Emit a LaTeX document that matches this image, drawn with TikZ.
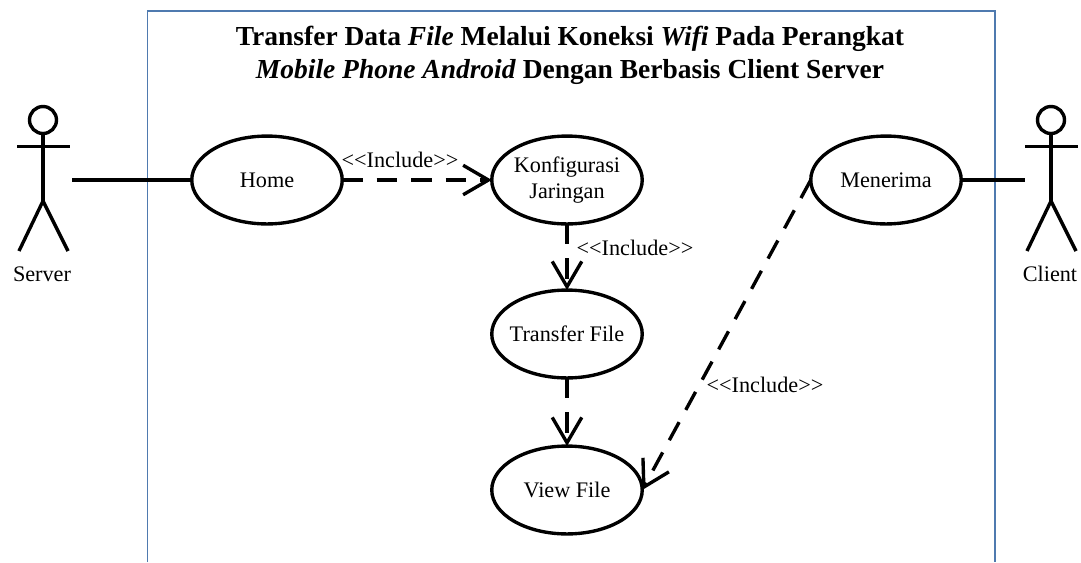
\documentclass[tikz,border=0pt]{standalone}
\usepackage{fontspec}
\setmainfont{Liberation Serif}[Ligatures=NoCommon]
\usetikzlibrary{shapes.geometric}
\usetikzlibrary{arrows.meta}
\definecolor{framecolor}{RGB}{79,122,175}
\tikzstyle{usecase}=[draw, ellipse, line width=2.4pt, minimum width=107pt, minimum height=62.5pt, inner sep=0pt, outer sep=0pt, font=\fontsize{15.8}{18.5}\selectfont, align=center]
\tikzstyle{relation}=[line width=2.4pt]
\tikzstyle{include}=[relation, dash pattern=on 14.6pt off 9.9pt, -{Straight Barb[length=18pt,width=21pt]}]
\tikzstyle{stickman}=[line width=2.4pt]
\tikzstyle{tag}=[font=\fontsize{15.8}{19}\selectfont, inner sep=0pt]

\begin{document}
\begin{tikzpicture}[x=0.025cm,y=-0.025cm]
        \useasboundingbox (0,0) rectangle (1081,562);
        %sistema
        \draw[framecolor, line width=1.2pt] (147.5,562) -- (147.5,11) -- (995,11) -- (995,562);
        \node[font=\fontsize{19.55}{23.5}\selectfont\bfseries, align=center, inner sep=0pt] (title) at (570,55)
            {Transfer Data \textit{File} Melalui Koneksi \textit{Wifi} Pada Perangkat\\
             \textit{Mobile Phone Android} Dengan Berbasis Client Server};
        %actores
        \foreach \x/\name in {43/srv,1051/clt}{
            \draw[stickman] (\x,120) circle (13.5);
            \draw[stickman] (\x,134) -- (\x,201);
            \draw[stickman] (\x-26,146.5) -- (\x+27,146.5);
            \draw[stickman] (\x-24,251) -- (\x,201) -- (\x+25,251);
        }
        \node[tag] (server) at (42,274) {Server};
        \node[tag] (client) at (1050,274) {Client};
        \coordinate (srvhand) at (72,180);
        \coordinate (clthand) at (1025,180);
        %casos de uso
        \node[usecase] (home) at (267,180) {Home};
        \node[usecase] (konfig) at (567,180) {Konfigurasi\\Jaringan};
        \node[usecase] (transfer) at (567,334) {\makebox[0pt]{Transfer File}};
        \node[usecase] (view) at (567,490) {View File};
        \node[usecase] (menerima) at (886,180) {Menerima};
        %asociaciones
        \draw[relation] (srvhand) -- (home);
        \draw[relation] (menerima) -- (clthand);
        %include
        \draw[include] (home) -- (konfig);
        \draw[include] (konfig) -- (transfer);
        \draw[include] (transfer) -- (view);
        \draw[include] (menerima.west) -- (view.east);
        \node[tag] (inca) at (400,160) {<{}<Include>{}>};
        \node[tag] (incb) at (635,248) {<{}<Include>{}>};
        \node[tag] (incc) at (765,385) {<{}<Include>{}>};
 \end{tikzpicture}
\end{document}
